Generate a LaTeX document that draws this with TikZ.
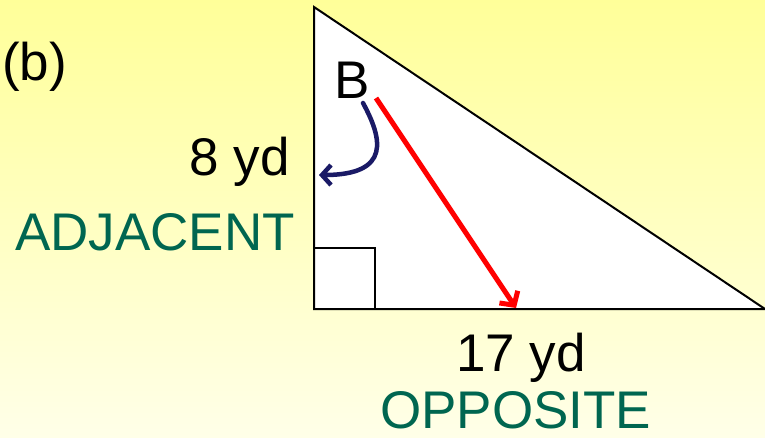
\documentclass[tikz,border=0pt]{standalone}
\usepackage{fontspec}
\setmainfont{Liberation Sans}
\usetikzlibrary{arrows.meta}
\definecolor{bgtop}{HTML}{FFFF99}
\definecolor{bgbot}{HTML}{FFFFE8}
\definecolor{adjgreen}{HTML}{006650}
\definecolor{navyarrow}{HTML}{1A1A66}
\begin{document}
\begin{tikzpicture}[x=1pt,y=-1pt,
  lbl/.style={inner sep=0pt,font=\fontsize{53}{60}\selectfont},
  side/.style={draw=black,line width=2pt}]
\useasboundingbox (0,0) rectangle (765,437);
\shade[top color=bgtop,bottom color=bgbot] (0,0) rectangle (765,437);
% triangle
\coordinate (T) at (314,7);
\coordinate (C) at (314,309);
\coordinate (R) at (765,309);
\filldraw[fill=white,side,line join=miter] (T) -- (C) -- (R) -- cycle;
\draw[side] (314,248) rectangle (375,309);
% labels
\node[lbl,anchor=base west] (lb) at (2,80) {(b)};
\node[lbl,anchor=base west] (B) at (334,98) {B};
\node[lbl,anchor=base east] (h) at (290,175) {8 yd};
\node[lbl,anchor=base east,text=adjgreen] (adj) at (295,250) {ADJACENT};
\node[lbl,anchor=base west] (o) at (456,371) {17 yd};
\node[lbl,anchor=base west,text=adjgreen,text depth=0pt] (opp) at (380,428) {OPPOSITE};
% arrows
\coordinate (rs) at (376,98);
\coordinate (re) at (516,308);
\draw[red,line width=5pt,-{Straight Barb[length=10pt,width=22pt,line width=5pt]}] (rs) -- (re);
\coordinate (bs) at (363,103);
\coordinate (be) at (319,175);
\draw[navyarrow,line width=4.5pt,line cap=round,-{Straight Barb[length=9pt,width=20pt,line width=4.5pt]}] (bs) .. controls (382,138) and (392,175) .. (be);
\end{tikzpicture}
\end{document}
